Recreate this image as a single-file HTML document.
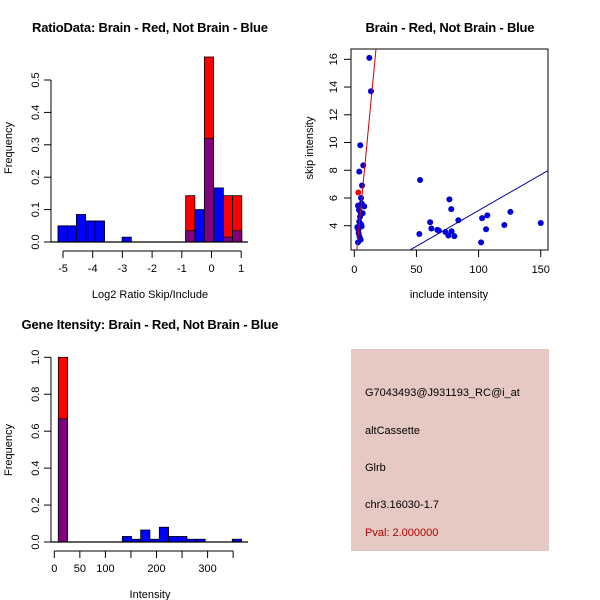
<!DOCTYPE html>
<html><head><meta charset="utf-8"><style>
html,body{margin:0;padding:0;background:#fff}
svg{display:block;font-family:"Liberation Sans",sans-serif}
</style></head><body>
<svg id="c" width="600" height="600" viewBox="0 0 600 600" xmlns="http://www.w3.org/2000/svg">
<rect width="600" height="600" fill="#fff"/>
<text x="150" y="32" font-size="13" font-weight="bold" text-anchor="middle" textLength="236">RatioData: Brain - Red, Not Brain - Blue</text>
<text x="450" y="32" font-size="13" font-weight="bold" text-anchor="middle" textLength="169">Brain - Red, Not Brain - Blue</text>
<text x="150" y="329" font-size="13" font-weight="bold" text-anchor="middle" textLength="257">Gene Itensity: Brain - Red, Not Brain - Blue</text>
<g id="p1"></g>
<g id="p2"></g>
<g id="p3"></g>
<g>
<rect x="351" y="349" width="198" height="202" fill="#e6c9c3"/>
<text x="365" y="396" font-size="11" fill="#000">G7043493@J931193_RC@i_at</text>
<text x="365" y="434" font-size="11" fill="#000">altCassette</text>
<text x="365" y="471" font-size="11" fill="#000">Glrb</text>
<text x="365" y="508" font-size="11" fill="#000">chr3.16030-1.7</text>
<text x="365" y="536" font-size="11" fill="#b00000">Pval: 2.000000</text>
</g>
</svg>
<script>
// ---- Panel 1 data
const ratioBlueLeft = [-5.17,-4.85,-4.55,-4.23,-3.91,-3.01,-0.87,-0.55,-0.24,0.09,0.40,0.71];
const ratioBlueFreq = [0.05,0.05,0.085,0.065,0.065,0.015,0.035,0.10,0.32,0.167,0.015,0.035];
const ratioRedLeft = [-0.87,-0.24,0.40,0.71];
const ratioRedFreq = [0.143,0.571,0.143,0.143];
const ratioXTicks = [-5,-4,-3,-2,-1,0,1];
const ratioYTicks = [0,0.1,0.2,0.3,0.4,0.5];
const ratioBinWidth = 0.31;
// ---- Panel 2 data
const inclX = [12.1,13.4,4.8,7.2,4,6.2,52.9,76.5,78,61,62,52.3,66.8,68,73.3,75.7,78.3,80.5,83.7,102.8,107,106,102,120.7,125.6,150,3,5.4,8,6.7,4.6,2.4,5.9,3.5,3,5.1,4,3.75,5.9,4.2,3.3,5.5,4.8];
const skipY = [16.1,13.7,9.8,8.35,7.9,6.9,7.3,5.9,5.2,4.25,3.8,3.4,3.7,3.65,3.55,3.3,3.6,3.25,4.4,4.55,4.75,3.75,2.8,4.05,5.0,4.2,5.45,6.0,5.4,4.9,4.65,3.9,3.95,3.45,2.8,3.0,4.3,5.15,5.6,3.2,3.7,4.1,5.0];
const redPtX = [3.2];
const redPtY = [6.4];
const redFit = [0.37,0.938];
const blueFit = [-0.06,0.0516];
const scatXTicks = [0,50,100,150];
const scatYTicks = [4,6,8,10,12,14,16];
// ---- Panel 3 data
const intBlueLeft = [7.9,133.1,151.4,169,187.3,205.5,223.8,241.4,259,277.2,348.3];
const intBlueFreq = [0.667,0.03,0.015,0.065,0.015,0.08,0.03,0.03,0.015,0.015,0.015];
const intRedLeft = [7.9];
const intRedFreq = [1.0];
const intXTicks = [0,50,100,150,200,250,300,350];
const intXLabels = ["0","50","100","","200","","300",""];
const intYTicks = [0,0.2,0.4,0.6,0.8,1.0];
const intBinWidth = 18.1;

const NS="http://www.w3.org/2000/svg";
function mk(parent,tag,attrs){const e=document.createElementNS(NS,tag);for(const k in attrs)e.setAttribute(k,attrs[k]);parent.appendChild(e);return e;}
function txt(parent,x,y,s,attrs){const e=mk(parent,'text',Object.assign({x:x,y:y,'font-size':12},attrs||{}));e.textContent=s;return e;}
const BLUE='#0000ff',RED='#ff0000',PURPLE='#800080';

function histo(g,sx,sy,bL,bF,rL,rF,bw){
  rL.forEach((l,i)=>{
    const r=mk(g,'rect',{x:sx(l),y:sy(rF[i]),width:sx(l+bw)-sx(l),height:sy(0)-sy(rF[i]),fill:RED,stroke:'#000','stroke-width':0.8});
    
    
  });
  bL.forEach((l,i)=>{
    let over=rL.some((rl,j)=>Math.abs(rl-l)<1e-6&&rF[j]>=bF[i]);
    const r=mk(g,'rect',{x:sx(l),y:sy(bF[i]),width:sx(l+bw)-sx(l),height:sy(0)-sy(bF[i]),fill:over?PURPLE:BLUE,stroke:'#000','stroke-width':0.8});
    
    
  });
}
function yaxis(g,x,sy,ticks,fmt,y0,y1){
  mk(g,'line',{x1:x,x2:x,y1:sy(ticks[0]),y2:sy(ticks[ticks.length-1]),stroke:'#000'});
  ticks.forEach(t=>{
    mk(g,'line',{x1:x-7,x2:x,y1:sy(t),y2:sy(t),stroke:'#000'});
    const e=txt(g,x-12,sy(t),fmt(t),{'text-anchor':'middle',transform:`rotate(-90 ${x-12} ${sy(t)})`,'font-size':11});
    
    
  });
}
function xaxis(g,y,sx,ticks,labels){
  mk(g,'line',{x1:sx(ticks[0]),x2:sx(ticks[ticks.length-1]),y1:y,y2:y,stroke:'#000'});
  ticks.forEach((t,i)=>{
    mk(g,'line',{x1:sx(t),x2:sx(t),y1:y,y2:y+7,stroke:'#000'});
    const e=txt(g,sx(t),y+21,labels[i],{'text-anchor':'middle','font-size':11});
    
    
  });
}

// Panel 1
(function(){
  const g=document.getElementById('p1');
  const sx=v=>63+(v+5)*29.7, sy=v=>242-v*324;
  histo(g,sx,sy,ratioBlueLeft,ratioBlueFreq,ratioRedLeft,ratioRedFreq,ratioBinWidth);
  mk(g,'line',{x1:51,x2:248,y1:242,y2:242,stroke:'#000','stroke-width':1.3});
  yaxis(g,51,sy,ratioYTicks,t=>t.toFixed(1));
  xaxis(g,251,sx,ratioXTicks,ratioXTicks.map(String));
  const xl=txt(g,150,298,'Log2 Ratio Skip/Include',{'text-anchor':'middle','font-size':11});
  
  
  const yl=txt(g,12,148,'Frequency',{'text-anchor':'middle','font-size':11,transform:'rotate(-90 12 148)'});
  
  
})();

// Panel 2
(function(){
  const g=document.getElementById('p2');
  const sx=v=>354.3+v*1.243, sy=v=>59.3+(16-v)*13.87;
  mk(g,'defs',{}).innerHTML='<clipPath id="cp2"><rect x="351" y="49" width="197" height="201"/></clipPath>';
  mk(g,'rect',{x:351,y:49,width:197,height:201,fill:'none',stroke:'#000'});
  const pg=mk(g,'g',{'clip-path':'url(#cp2)'});
  inclX.forEach((x,i)=>{
    const c=mk(pg,'circle',{cx:sx(x),cy:sy(skipY[i]),r:3,fill:'#0000dd'});
    
    
  });
  redPtX.forEach((x,i)=>{
    const c=mk(pg,'circle',{cx:sx(x),cy:sy(redPtY[i]),r:3,fill:RED});
    
    
  });
  const xa=0,xb=200;
  const rl=mk(pg,'line',{x1:sx(xa),y1:sy(redFit[0]+redFit[1]*xa),x2:sx(xb),y2:sy(redFit[0]+redFit[1]*xb),stroke:'#cc0000'});
  
  
  const bl=mk(pg,'line',{x1:sx(xa),y1:sy(blueFit[0]+blueFit[1]*xa),x2:sx(xb),y2:sy(blueFit[0]+blueFit[1]*xb),stroke:'#000099'});
  
  
  // axes ticks
  scatYTicks.forEach(t=>{
    mk(g,'line',{x1:344,x2:351,y1:sy(t),y2:sy(t),stroke:'#000'});
    const e=txt(g,337,sy(t),String(t),{'text-anchor':'middle','font-size':11,transform:`rotate(-90 337 ${sy(t)})`});
    
    
  });
  scatXTicks.forEach(t=>{
    mk(g,'line',{x1:sx(t),x2:sx(t),y1:250,y2:257,stroke:'#000'});
    const e=txt(g,sx(t),273,String(t),{'text-anchor':'middle','font-size':11});
    
    
  });
  const xl=txt(g,449,298,'include intensity',{'text-anchor':'middle','font-size':11});
  
  
  const yl=txt(g,313,148,'skip intensity',{'text-anchor':'middle','font-size':11,transform:'rotate(-90 313 148)'});
  
  
})();

// Panel 3
(function(){
  const g=document.getElementById('p3');
  const sx=v=>54.3+v*0.511, sy=v=>542-v*184.7;
  histo(g,sx,sy,intBlueLeft,intBlueFreq,intRedLeft,intRedFreq,intBinWidth);
  mk(g,'line',{x1:51,x2:248,y1:542,y2:542,stroke:'#000','stroke-width':1.3});
  yaxis(g,51,sy,intYTicks,t=>t.toFixed(1));
  xaxis(g,551,sx,intXTicks,intXLabels);
  const xl=txt(g,150,598,'Intensity',{'text-anchor':'middle','font-size':11});
  
  
  const yl=txt(g,12,450,'Frequency',{'text-anchor':'middle','font-size':11,transform:'rotate(-90 12 450)'});
  
  
})();
</script>
</body></html>
